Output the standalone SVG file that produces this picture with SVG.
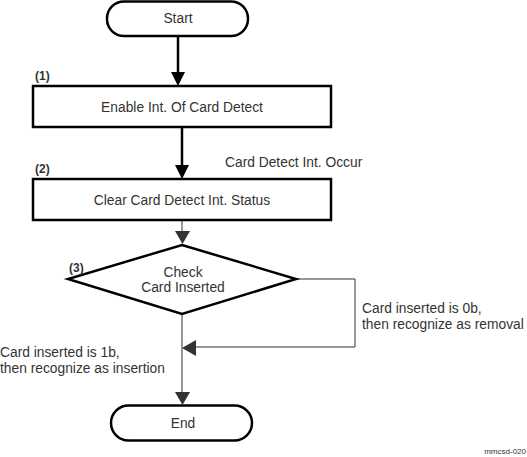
<svg xmlns="http://www.w3.org/2000/svg" width="527" height="457" viewBox="0 0 527 457">
<style>
.shape{fill:#fff;stroke:#000;stroke-width:2.5}
.t{font-family:"Liberation Sans",Arial,sans-serif;font-size:13.8px;fill:#333}
.n{font-family:"Liberation Sans",Arial,sans-serif;font-size:12px;font-weight:bold;fill:#333}
.thick{stroke:#000;stroke-width:2.5;fill:none}
.thin{stroke:#333;stroke-width:1;fill:none}
</style>
<rect width="527" height="457" fill="#fff"/>
<g id="connectors">
<line class="thick" x1="178" y1="36" x2="178" y2="74"/>
<polygon points="171,72 185,72 178,86" fill="#000"/>
<line class="thick" x1="182" y1="127" x2="182" y2="167"/>
<polygon points="175,165 189,165 182,179" fill="#000"/>
<line class="thin" x1="182" y1="220" x2="182" y2="232"/>
<polygon points="175,231 190,231 182.5,244" fill="#333"/>
<polyline class="thin" points="296,279 355,279 355,347 195,347"/>
<polygon points="196,340 196,356 182,348" fill="#333"/>
<line class="thin" x1="182" y1="314" x2="182" y2="393"/>
<polygon points="175,392 190,392 182.5,405" fill="#333"/>
<text class="t" x="225" y="167">Card Detect Int. Occur</text>
<text class="t" x="362" y="313">Card inserted is 0b,</text>
<text class="t" x="362" y="329">then recognize as removal</text>
<text class="t" x="0" y="357">Card inserted is 1b,</text>
<text class="t" x="0" y="373">then recognize as insertion</text>
</g>
<g id="start">
<rect class="shape" x="107" y="1.5" width="141" height="34.5" rx="17" ry="17"/>
<text class="t" x="178" y="23" text-anchor="middle">Start</text>
</g>
<g id="step1">
<text class="n" x="35" y="80">(1)</text>
<rect class="shape" x="33" y="86" width="298" height="41"/>
<text class="t" x="182" y="112" text-anchor="middle">Enable Int. Of Card Detect</text>
</g>
<g id="step2">
<text class="n" x="35" y="173">(2)</text>
<rect class="shape" x="33" y="179" width="298" height="41"/>
<text class="t" x="182" y="205" text-anchor="middle">Clear Card Detect Int. Status</text>
</g>
<g id="check">
<polygon class="shape" points="182,245 296,279 182,314 68,279"/>
<text class="n" x="69" y="272">(3)</text>
<text class="t" x="183" y="277" text-anchor="middle">Check</text>
<text class="t" x="183" y="292" text-anchor="middle">Card Inserted</text>
</g>
<g id="end">
<rect class="shape" x="111" y="405.5" width="141" height="35" rx="17.5" ry="17.5"/>
<text class="t" x="183" y="428" text-anchor="middle">End</text>
</g>
<text x="526" y="454" text-anchor="end" style="font-family:'Liberation Sans',Arial,sans-serif;font-size:8px;fill:#333">mmcsd-020</text>
</svg>
